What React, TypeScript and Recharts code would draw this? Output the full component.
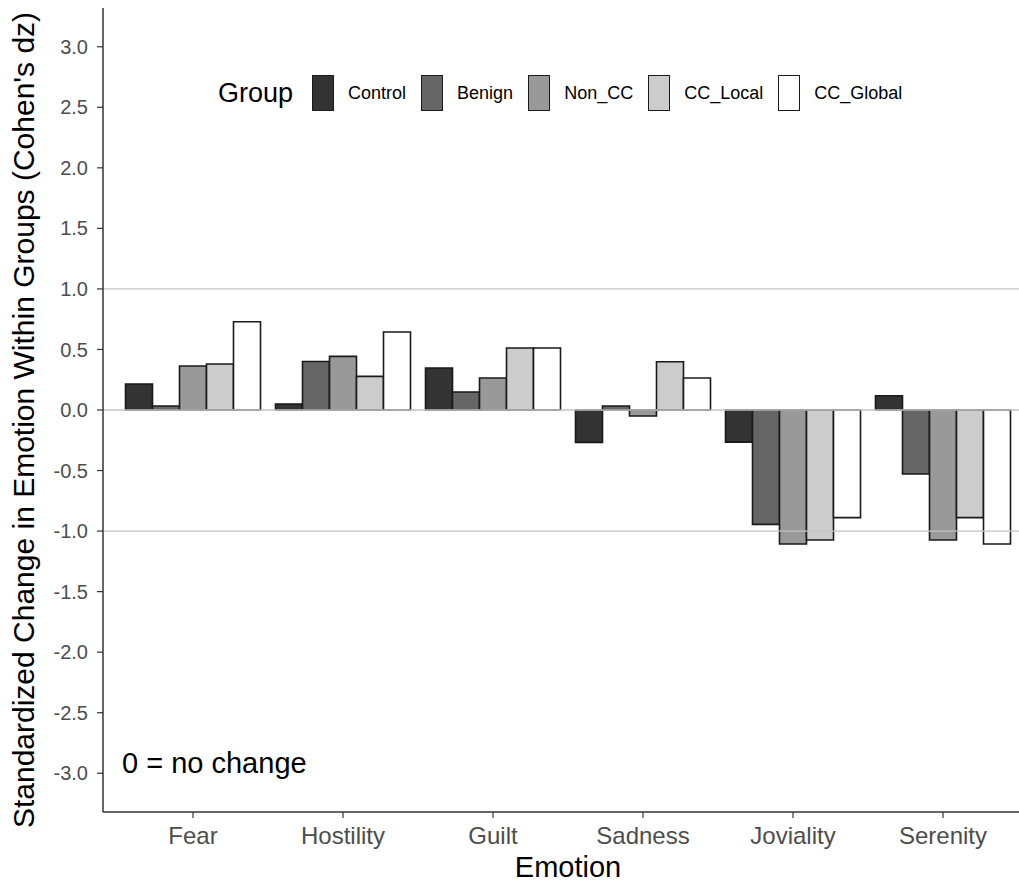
import React from 'react';
import { BarChart, Bar, XAxis, YAxis, ReferenceLine } from 'recharts';

const emotions = ['Fear', 'Hostility', 'Guilt', 'Sadness', 'Joviality', 'Serenity'];
const groups = ['Control', 'Benign', 'Non_CC', 'CC_Local', 'CC_Global'];
const groupColors = ['#333333', '#666666', '#999999', '#cccccc', '#ffffff'];

const control = [0.215, 0.05, 0.347, -0.267, -0.265, 0.118];
const benign = [0.033, 0.4, 0.149, 0.033, -0.945, -0.529];
const nonCC = [0.363, 0.443, 0.264, -0.05, -1.107, -1.074];
const ccLocal = [0.38, 0.278, 0.512, 0.399, -1.074, -0.889];
const ccGlobal = [0.729, 0.644, 0.512, 0.264, -0.889, -1.107];

const yTicks = [-3, -2.5, -2, -1.5, -1, -0.5, 0, 0.5, 1, 1.5, 2, 2.5, 3];
const refLines = [1, 0, -1];

const yTitle = "Standardized Change in Emotion Within Groups (Cohen's dz)";
const xTitle = 'Emotion';
const noteText = '0 = no change';
const legendTitle = 'Group';

const seriesValues = [control, benign, nonCC, ccLocal, ccGlobal];
const data = emotions.map((e, i) => {
  const row: Record<string, any> = { emotion: e };
  groups.forEach((g, j) => {
    row[g] = seriesValues[j][i];
  });
  return row;
});

const FONT = '"Liberation Sans", Arial, sans-serif';

const YTitle = () => (
  <text
    x={23}
    y={420}
    transform="rotate(-90, 23, 420)"
    textAnchor="middle"
    dominantBaseline="central"
    fill="#000000"
    fontSize={30}
    fontFamily={FONT}
  >
    {yTitle}
  </text>
);

export default function App() {
  return (
    <div
      style={{
        position: 'fixed',
        left: 0,
        top: 0,
        width: 1019,
        height: 882,
        overflow: 'hidden',
        background: '#ffffff',
        fontFamily: FONT,
      }}
    >
      <BarChart
        width={1040}
        height={882}
        data={data}
        margin={{ top: 8, right: 7, bottom: 0, left: 0 }}
        barCategoryGap="5%"
        barGap={0}
      >
        {refLines.map((v) => (
          <ReferenceLine key={v} y={v} stroke="#c4c4c4" strokeWidth={1.3} />
        ))}
        <XAxis
          dataKey="emotion"
          height={70}
          padding={{ left: 15, right: 15 }}
          axisLine={{ stroke: '#333333', strokeWidth: 1.5 }}
          tickLine={{ stroke: '#333333', strokeWidth: 1.2 }}
          tickSize={6}
          tickMargin={9}
          tick={{ fill: '#4d4d4d', fontSize: 24, fontFamily: FONT }}
          label={{
            value: xTitle,
            position: 'insideBottom',
            offset: 5,
            style: { fill: '#000000', fontSize: 29, fontFamily: FONT },
          }}
        />
        <YAxis
          width={103}
          type="number"
          domain={[-3.32, 3.32]}
          ticks={yTicks}
          allowDataOverflow
          tickFormatter={(v: number) => v.toFixed(1)}
          axisLine={{ stroke: '#333333', strokeWidth: 1.5 }}
          tickLine={{ stroke: '#333333', strokeWidth: 1.2 }}
          tickSize={6}
          tickMargin={9}
          tick={{ fill: '#4d4d4d', fontSize: 20, fontFamily: FONT }}
          label={{ content: () => <YTitle /> }}
        />
        {groups.map((g, j) => (
          <Bar
            key={g}
            dataKey={g}
            fill={groupColors[j]}
            stroke="#1a1a1a"
            strokeWidth={1.6}
            isAnimationActive={false}
          />
        ))}
      </BarChart>

      <div
        style={{
          position: 'absolute',
          left: 122,
          top: 747,
          fontSize: 29,
          color: '#000000',
          fontFamily: FONT,
          whiteSpace: 'nowrap',
        }}
      >
        {noteText}
      </div>

      <div
        style={{
          position: 'absolute',
          left: 218,
          top: 75,
          height: 36,
          display: 'flex',
          alignItems: 'center',
          fontFamily: FONT,
          whiteSpace: 'nowrap',
        }}
      >
        <span style={{ fontSize: 27, color: '#000000', marginRight: 19 }}>{legendTitle}</span>
        {groups.map((g, j) => (
          <span key={g} style={{ display: 'flex', alignItems: 'center', marginRight: 15 }}>
            <span
              style={{
                display: 'inline-block',
                boxSizing: 'border-box',
                width: 22,
                height: 36,
                background: groupColors[j],
                border: '1.5px solid #1a1a1a',
                marginRight: 14,
              }}
            />
            <span style={{ fontSize: 18, color: '#000000' }}>{g}</span>
          </span>
        ))}
      </div>
    </div>
  );
}
